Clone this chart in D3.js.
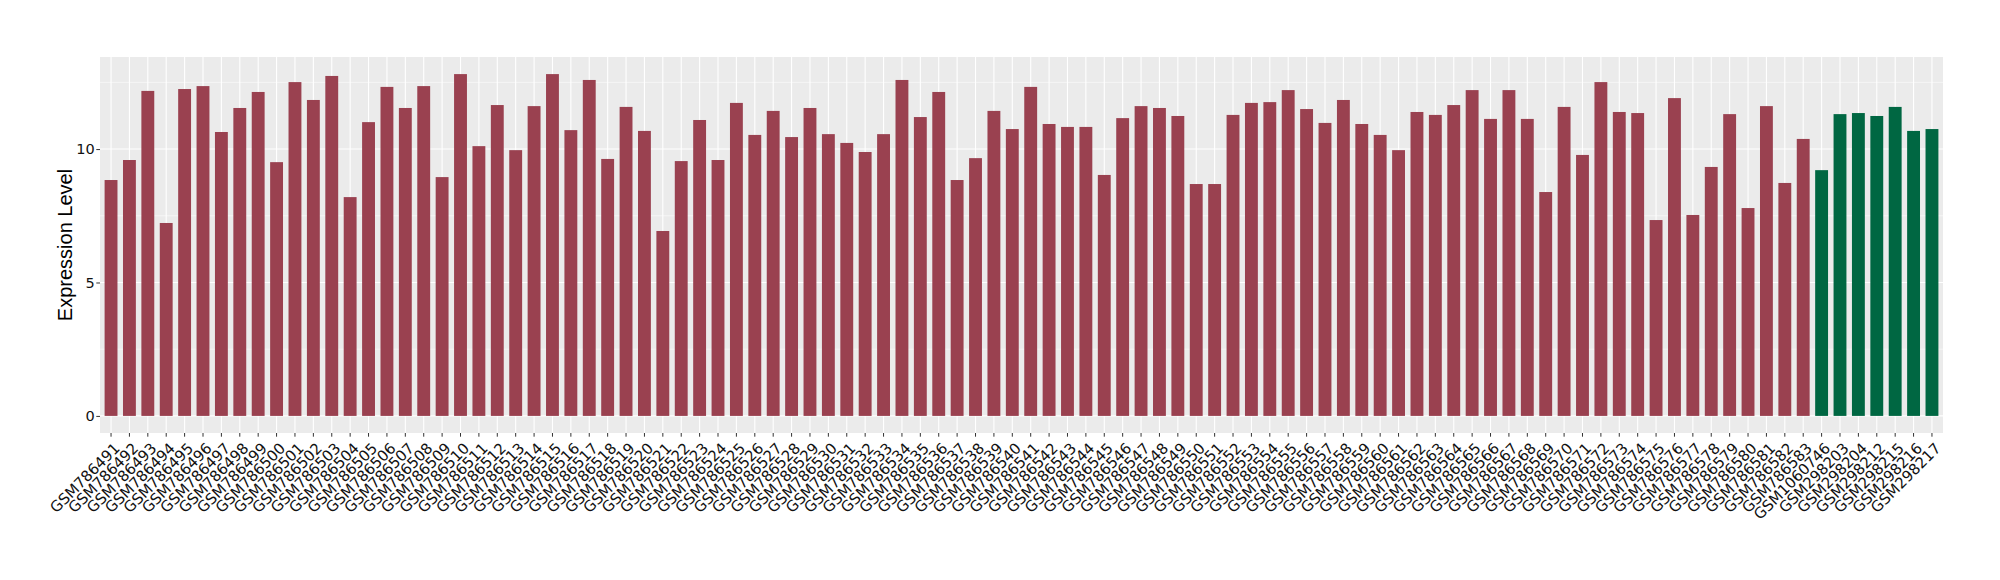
<!DOCTYPE html>
<html>
<head>
<meta charset="utf-8">
<script src="https://cdn.jsdelivr.net/npm/d3@7"></script>
<style>
  body { margin: 0; background: #fff; }
  text { font-family: "Liberation Sans", Arial, Helvetica, sans-serif; }
</style>
</head>
<body>
<div id="chart"></div>
<script>
// sample ids, in plot order
var samples = [
  'GSM786491','GSM786492','GSM786493','GSM786494','GSM786495','GSM786496','GSM786497','GSM786498','GSM786499','GSM786500',
  'GSM786501','GSM786502','GSM786503','GSM786504','GSM786505','GSM786506','GSM786507','GSM786508','GSM786509','GSM786510',
  'GSM786511','GSM786512','GSM786513','GSM786514','GSM786515','GSM786516','GSM786517','GSM786518','GSM786519','GSM786520',
  'GSM786521','GSM786522','GSM786523','GSM786524','GSM786525','GSM786526','GSM786527','GSM786528','GSM786529','GSM786530',
  'GSM786531','GSM786532','GSM786533','GSM786534','GSM786535','GSM786536','GSM786537','GSM786538','GSM786539','GSM786540',
  'GSM786541','GSM786542','GSM786543','GSM786544','GSM786545','GSM786546','GSM786547','GSM786548','GSM786549','GSM786550',
  'GSM786551','GSM786552','GSM786553','GSM786554','GSM786555','GSM786556','GSM786557','GSM786558','GSM786559','GSM786560',
  'GSM786561','GSM786562','GSM786563','GSM786564','GSM786565','GSM786566','GSM786567','GSM786568','GSM786569','GSM786570',
  'GSM786571','GSM786572','GSM786573','GSM786574','GSM786575','GSM786576','GSM786577','GSM786578','GSM786579','GSM786580',
  'GSM786581','GSM786582','GSM786583','GSM1060746','GSM298203','GSM298204','GSM298212','GSM298215','GSM298216','GSM298217'
]

var values = [
  8.84, 9.59, 12.18, 7.23, 12.25, 12.36, 10.64, 11.54, 12.14, 9.51,
  12.51, 11.84, 12.74, 8.20, 11.01, 12.33, 11.54, 12.36, 8.95, 12.81,
  10.11, 11.65, 9.96, 11.61, 12.81, 10.71, 12.59, 9.63, 11.58, 10.68,
  6.93, 9.55, 11.09, 9.59, 11.73, 10.53, 11.43, 10.45, 11.54, 10.56,
  10.23, 9.89, 10.56, 12.59, 11.20, 12.14, 8.84, 9.66, 11.43, 10.75,
  12.33, 10.94, 10.83, 10.83, 9.03, 11.16, 11.61, 11.54, 11.24, 8.69,
  8.69, 11.28, 11.73, 11.76, 12.21, 11.50, 10.98, 11.84, 10.94, 10.53,
  9.96, 11.39, 11.28, 11.65, 12.21, 11.13, 12.21, 11.13, 8.39, 11.58,
  9.78, 12.51, 11.39, 11.35, 7.34, 11.91, 7.53, 9.33, 11.31, 7.79,
  11.61, 8.73, 10.38, 9.21, 11.31, 11.35, 11.24, 11.58, 10.68, 10.75
]

// the samples drawn in green
var normalSamples = ['GSM1060746','GSM298203','GSM298204','GSM298212','GSM298215','GSM298216','GSM298217']

var yTicks = [0, 5, 10]
var yMinorTicks = [2.5, 7.5, 12.5]

var data = samples.map(function(s, i){
  return {sample: s, value: values[i], normal: normalSamples.indexOf(s) > -1}
})

var W = 2000, H = 580
var margin = {left: 100, right: 57, top: 57, bottom: 147}
var tickFont = '"DejaVu Sans", Verdana, sans-serif'

var svg = d3.select('#chart').append('svg')
  .attr('width', W).attr('height', H)

var maxV = d3.max(values)
var x = d3.scaleBand()
  .domain(samples)
  .range([margin.left, W - margin.right])
  .paddingInner(0.3)
  .paddingOuter(0.25)

var y = d3.scaleLinear()
  .domain([-0.05*maxV, 1.05*maxV])
  .range([H - margin.bottom, margin.top])

// panel
svg.append('rect')
  .attr('x', margin.left).attr('y', margin.top)
  .attr('width', W - margin.left - margin.right)
  .attr('height', H - margin.top - margin.bottom)
  .attr('fill', '#ebebeb')

var grid = svg.append('g')
grid.selectAll('line.minor').data(yMinorTicks).enter().append('line')
  .attr('class', 'minor')
  .attr('x1', margin.left).attr('x2', W - margin.right)
  .attr('y1', y).attr('y2', y)
  .attr('stroke', '#fff').attr('stroke-width', 0.55)
grid.selectAll('line.hmajor').data(yTicks).enter().append('line')
  .attr('class', 'hmajor')
  .attr('x1', margin.left).attr('x2', W - margin.right)
  .attr('y1', y).attr('y2', y)
  .attr('stroke', '#fff').attr('stroke-width', 1.1)
grid.selectAll('line.vmajor').data(samples).enter().append('line')
  .attr('class', 'vmajor')
  .attr('x1', d => x(d) + x.bandwidth()/2).attr('x2', d => x(d) + x.bandwidth()/2)
  .attr('y1', margin.top).attr('y2', H - margin.bottom)
  .attr('stroke', '#fff').attr('stroke-width', 1.1)

// bars
svg.append('g').selectAll('rect').data(data).enter().append('rect')
  .attr('x', d => x(d.sample))
  .attr('width', x.bandwidth())
  .attr('y', d => y(d.value))
  .attr('height', d => y(0) - y(d.value))
  .attr('fill', d => d.normal ? '#006742' : '#9a4150')

// y axis
var yAxis = svg.append('g')
  .attr('transform', 'translate(' + margin.left + ',0)')
  .call(d3.axisLeft(y).tickValues(yTicks).tickSize(3.7).tickPadding(1.5))
yAxis.select('.domain').remove()
yAxis.selectAll('line').attr('stroke', '#333')
yAxis.selectAll('text').attr('font-size', 14.5).attr('fill', '#111')
  .style('font-family', tickFont)

// x axis
var xAxis = svg.append('g')
  .attr('transform', 'translate(0,' + (H - margin.bottom) + ')')
  .call(d3.axisBottom(x).tickSize(3.7).tickPadding(0))
xAxis.select('.domain').remove()
xAxis.selectAll('line').attr('stroke', '#333')
xAxis.selectAll('text')
  .attr('font-size', 15).attr('fill', '#111')
  .style('font-family', tickFont)
  .attr('text-anchor', 'end')
  .attr('y', 0).attr('dy', '0.73em')
  .attr('transform', 'translate(2,8.5) rotate(-45)')

// y title
svg.append('text')
  .attr('transform', 'translate(65,' + ((margin.top + H - margin.bottom)/2) + ') rotate(-90)')
  .attr('text-anchor', 'middle')
  .attr('dy', '0.35em')
  .attr('font-size', 20)
  .attr('fill', '#000')
  .text('Expression Level')
</script>
</body>
</html>
